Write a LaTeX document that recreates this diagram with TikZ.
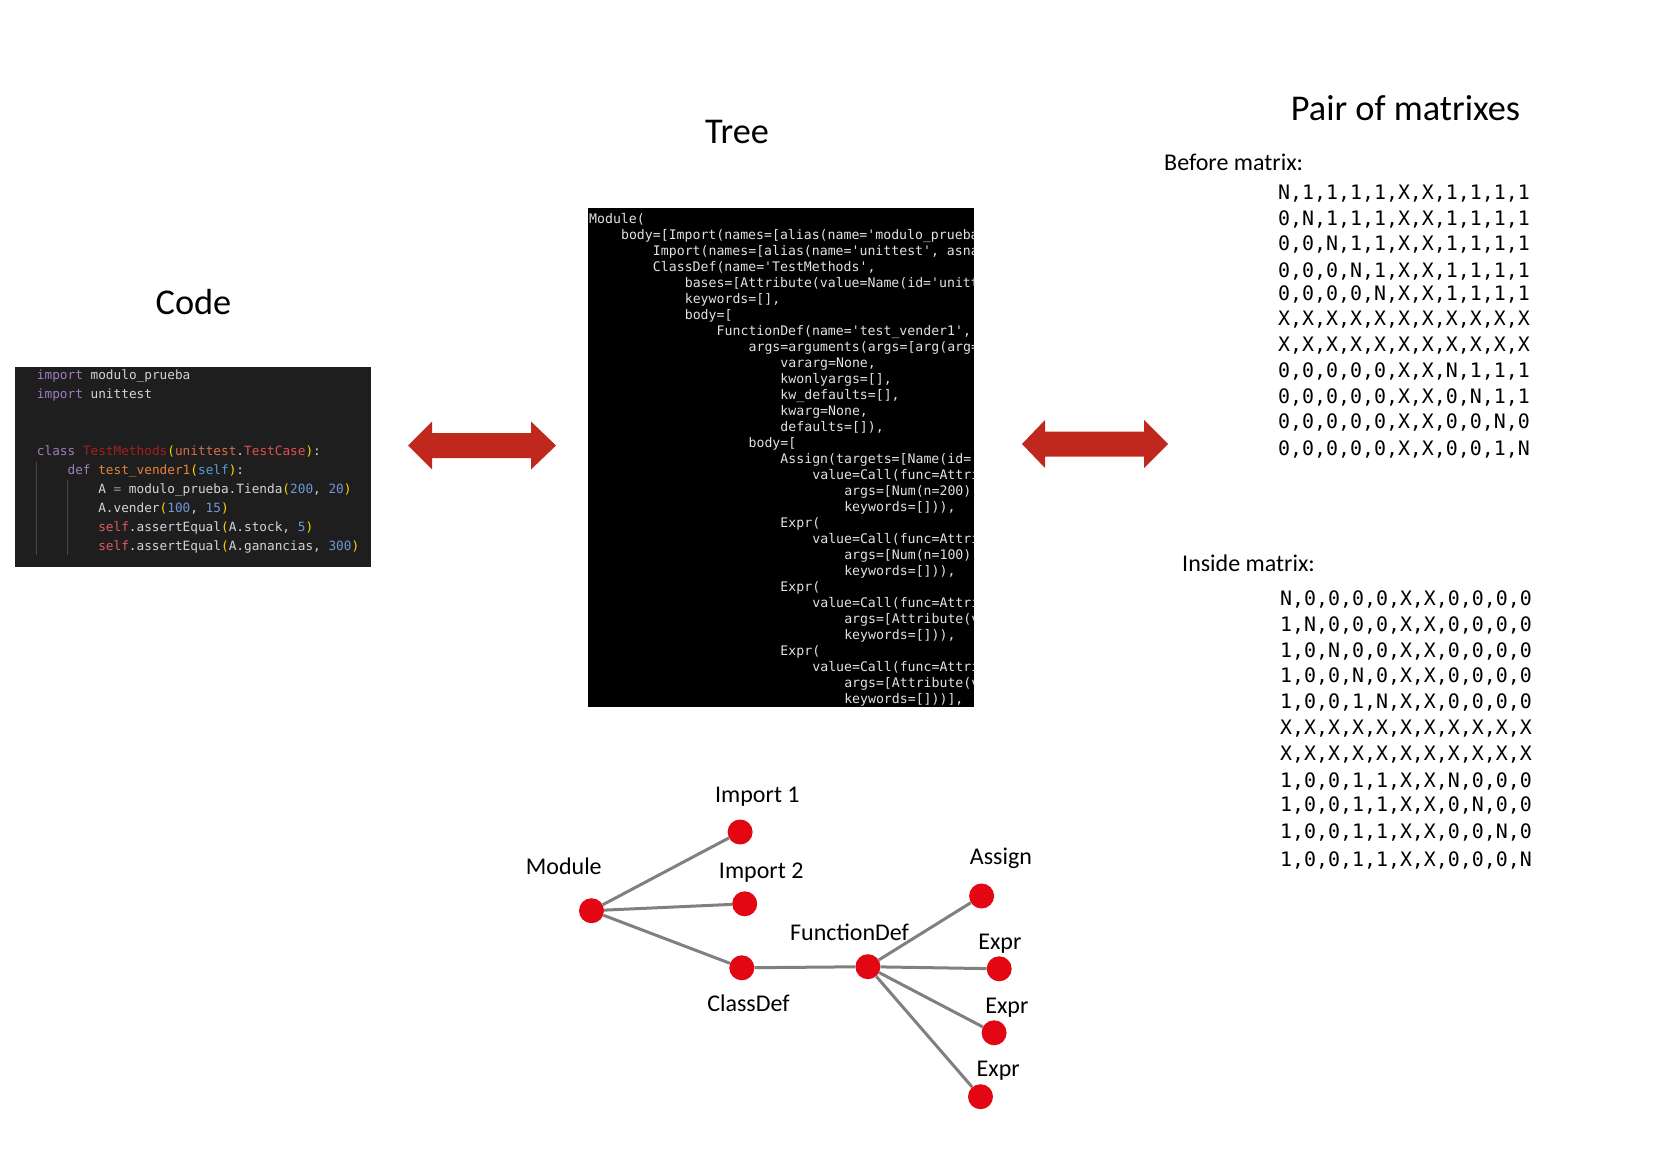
\documentclass[tikz,border=0pt]{standalone}
\usepackage{fontspec}
\setmainfont{Carlito}
\setmonofont{DejaVu Sans Mono}

\definecolor{arrowred}{RGB}{192,40,30}
\definecolor{dotred}{RGB}{227,6,19}
\definecolor{edgegray}{RGB}{128,128,128}
\definecolor{codebg}{RGB}{30,30,30}
\definecolor{codefg}{RGB}{212,212,212}
\definecolor{ckw}{RGB}{160,125,190}
\definecolor{ccls}{RGB}{165,30,30}
\definecolor{cmod}{RGB}{215,110,70}
\definecolor{ctc}{RGB}{225,80,80}
\definecolor{cfun}{RGB}{230,128,58}
\definecolor{cself}{RGB}{86,156,214}
\definecolor{cselfr}{RGB}{224,90,100}
\definecolor{cnum}{RGB}{110,150,210}
\definecolor{cbr}{RGB}{255,215,0}
\definecolor{cop}{RGB}{150,150,150}
\definecolor{cguide}{RGB}{70,70,70}
\definecolor{termfg}{RGB}{225,225,225}

\newcommand\termln[3]{\node[termline] (t#1) at ({589+#2*7.97},{220.5+#1*16.0}) {#3};}
\newcommand\codeln[3]{\node[codeline] (c#1) at ({36.7+#2*7.67},{377+#1*19}) {#3};}

\begin{document}
\begin{tikzpicture}[x=1pt,y=-1pt,
  title/.style={font=\fontsize{36.3}{42}\selectfont, inner sep=0pt},
  lbl/.style={font=\fontsize{24}{28}\selectfont, inner sep=0pt},
  codeline/.style={anchor=west, inner sep=0pt, text height=0.76em, text depth=0.24em,
    font=\ttfamily\fontsize{12.75}{15}\selectfont, text=codefg},
  termline/.style={anchor=west, inner sep=0pt, text height=0.76em, text depth=0.24em,
    font=\ttfamily\fontsize{13.2}{16}\selectfont, text=termfg},
  matline/.style={anchor=west, inner sep=0pt, text height=0.84em, text depth=0.12em,
    font=\ttfamily\fontsize{19.9}{24}\selectfont},
  dot/.style={circle, fill=dotred, minimum size=25pt, inner sep=0pt},
  treeline/.style={draw=edgegray, line width=3pt},
  blockarrow/.style={fill=arrowred}
]
\useasboundingbox (0,0) rectangle (1660,1156);
\fill[white] (0,0) rectangle (1660,1156);

% titles
\node[title] (tcode) at (193.5,302.5) {Code};
\node[title] (ttree) at (737,132) {Tree};
\node[title] (tpair) at (1405.5,108.5) {Pair of matrixes};

% code panel
\fill[codebg] (15,367) rectangle (371,567);
\draw[cguide, line width=1pt] (36,462) -- (36,555);
\draw[cguide, line width=1pt] (67.3,480) -- (67.3,555);
\codeln{0}{0}{\textcolor{ckw}{import} modulo\_prueba}
\codeln{1}{0}{\textcolor{ckw}{import} unittest}
\codeln{4}{0}{\textcolor{ckw}{class} \textcolor{ccls}{TestMethods}\textcolor{cbr}{(}\textcolor{cmod}{unittest}.\textcolor{ctc}{TestCase}\textcolor{cbr}{)}:}
\codeln{5}{4}{\textcolor{ckw}{def} \textcolor{cfun}{test\_vender1}\textcolor{cbr}{(}\textcolor{cself}{self}\textcolor{cbr}{)}:}
\codeln{6}{8}{A \textcolor{cop}{=} modulo\_prueba.Tienda\textcolor{cbr}{(}\textcolor{cnum}{200}, \textcolor{cnum}{20}\textcolor{cbr}{)}}
\codeln{7}{8}{A.vender\textcolor{cbr}{(}\textcolor{cnum}{100}, \textcolor{cnum}{15}\textcolor{cbr}{)}}
\codeln{8}{8}{\textcolor{cselfr}{self}.assertEqual\textcolor{cbr}{(}A.stock, \textcolor{cnum}{5}\textcolor{cbr}{)}}
\codeln{9}{8}{\textcolor{cselfr}{self}.assertEqual\textcolor{cbr}{(}A.ganancias, \textcolor{cnum}{300}\textcolor{cbr}{)}}

% tree (AST) panel
\fill[black] (588,208) rectangle (974,707);
\begin{scope}
\clip (588,208) rectangle (974,707);
\termln{0}{0}{Module(}
\termln{1}{4}{body=[Import(names=[alias(name='modulo\_prueba', asname=None)]),}
\termln{2}{8}{Import(names=[alias(name='unittest', asname=None)]),}
\termln{3}{8}{ClassDef(name='TestMethods',}
\termln{4}{12}{bases=[Attribute(value=Name(id='unittest', ctx=Load()))],}
\termln{5}{12}{keywords=[],}
\termln{6}{12}{body=[}
\termln{7}{16}{FunctionDef(name='test\_vender1',}
\termln{8}{20}{args=arguments(args=[arg(arg='self', annotation=None)],}
\termln{9}{24}{vararg=None,}
\termln{10}{24}{kwonlyargs=[],}
\termln{11}{24}{kw\_defaults=[],}
\termln{12}{24}{kwarg=None,}
\termln{13}{24}{defaults=[]),}
\termln{14}{20}{body=[}
\termln{15}{24}{Assign(targets=[Name(id='A', ctx=Store())],}
\termln{16}{28}{value=Call(func=Attribute(value=Name(id='modulo\_prueba')),}
\termln{17}{32}{args=[Num(n=200), Num(n=20)],}
\termln{18}{32}{keywords=[])),}
\termln{19}{24}{Expr(}
\termln{20}{28}{value=Call(func=Attribute(value=Name(id='A')),}
\termln{21}{32}{args=[Num(n=100), Num(n=15)],}
\termln{22}{32}{keywords=[])),}
\termln{23}{24}{Expr(}
\termln{24}{28}{value=Call(func=Attribute(value=Name(id='self')),}
\termln{25}{32}{args=[Attribute(value=Name(id='A'))],}
\termln{26}{32}{keywords=[])),}
\termln{27}{24}{Expr(}
\termln{28}{28}{value=Call(func=Attribute(value=Name(id='self')),}
\termln{29}{32}{args=[Attribute(value=Name(id='A'))],}
\termln{30}{32}{keywords=[]))],}
\end{scope}

% block arrows
\fill[blockarrow] (408,445.5) -- (432,421.5) -- (432,433) -- (531,433) -- (531,421.5)
  -- (556,445.5) -- (531,469.5) -- (531,458) -- (432,458) -- (432,469.5) -- cycle;
\fill[blockarrow] (1022,444) -- (1045,420) -- (1045,431.5) -- (1144,431.5) -- (1144,420)
  -- (1168,444) -- (1144,468) -- (1144,456.5) -- (1045,456.5) -- (1045,468) -- cycle;

% matrices
\node[lbl, anchor=west] (lbefore) at (1164,162) {Before matrix:};
\node[matline] (b1) at (1278,196.2) {N,1,1,1,1,X,X,1,1,1,1};
\node[matline] (b2) at (1278,221.7) {0,N,1,1,1,X,X,1,1,1,1};
\node[matline] (b3) at (1278,247.2) {0,0,N,1,1,X,X,1,1,1,1};
\node[matline] (b4) at (1278,273.7) {0,0,0,N,1,X,X,1,1,1,1};
\node[matline] (b5) at (1278,296.7) {0,0,0,0,N,X,X,1,1,1,1};
\node[matline] (b6) at (1278,321.7) {X,X,X,X,X,X,X,X,X,X,X};
\node[matline] (b7) at (1278,347.7) {X,X,X,X,X,X,X,X,X,X,X};
\node[matline] (b8) at (1278,374.3) {0,0,0,0,0,X,X,N,1,1,1};
\node[matline] (b9) at (1278,399.8) {0,0,0,0,0,X,X,0,N,1,1};
\node[matline] (b10) at (1278,425.3) {0,0,0,0,0,X,X,0,0,N,0};
\node[matline] (b11) at (1278,452.3) {0,0,0,0,0,X,X,0,0,1,N};

\node[lbl, anchor=west] (linside) at (1182,563) {Inside matrix:};
\node[matline] (i1) at (1280,601.6) {N,0,0,0,0,X,X,0,0,0,0};
\node[matline] (i2) at (1280,628.2) {1,N,0,0,0,X,X,0,0,0,0};
\node[matline] (i3) at (1280,653.7) {1,0,N,0,0,X,X,0,0,0,0};
\node[matline] (i4) at (1280,679.2) {1,0,0,N,0,X,X,0,0,0,0};
\node[matline] (i5) at (1280,704.7) {1,0,0,1,N,X,X,0,0,0,0};
\node[matline] (i6) at (1280,730.7) {X,X,X,X,X,X,X,X,X,X,X};
\node[matline] (i7) at (1280,756.7) {X,X,X,X,X,X,X,X,X,X,X};
\node[matline] (i8) at (1280,783.8) {1,0,0,1,1,X,X,N,0,0,0};
\node[matline] (i9) at (1280,808.2) {1,0,0,1,1,X,X,0,N,0,0};
\node[matline] (i10) at (1280,835.3) {1,0,0,1,1,X,X,0,0,N,0};
\node[matline] (i11) at (1280,862.4) {1,0,0,1,1,X,X,0,0,0,N};

% tree graph
\node[dot] (module) at (591.5,910.7) {};
\node[dot] (imp1) at (740.1,832) {};
\node[dot] (imp2) at (744.7,903.8) {};
\node[dot] (cls) at (741.8,967.8) {};
\node[dot] (fun) at (867.9,966.7) {};
\node[dot] (asg) at (981.6,896) {};
\node[dot] (ex1) at (999.2,968.8) {};
\node[dot] (ex2) at (994.1,1032.8) {};
\node[dot] (ex3) at (980.5,1096.7) {};

\draw[treeline] (module) -- (imp1);
\draw[treeline] (module) -- (imp2);
\draw[treeline] (module) -- (cls);
\draw[treeline] (cls) -- (fun);
\draw[treeline] (fun) -- (asg);
\draw[treeline] (fun) -- (ex1);
\draw[treeline] (fun) -- (ex2);
\draw[treeline] (fun) -- (ex3);

\node[lbl] (lmodule) at (563.8,866.7) {Module};
\node[lbl] (limp1) at (757.4,797.2) {Import 1};
\node[lbl] (limp2) at (761.2,872.8) {Import 2};
\node[lbl] (lcls) at (748.5,1002.8) {ClassDef};
\node[lbl] (lfun) at (849.6,932.3) {FunctionDef};
\node[lbl] (lasg) at (1000.9,857.8) {Assign};
\node[lbl] (lex1) at (999.9,943.8) {Expr};
\node[lbl] (lex2) at (1006.9,1008.2) {Expr};
\node[lbl] (lex3) at (998.2,1070.9) {Expr};
\end{tikzpicture}
\end{document}
